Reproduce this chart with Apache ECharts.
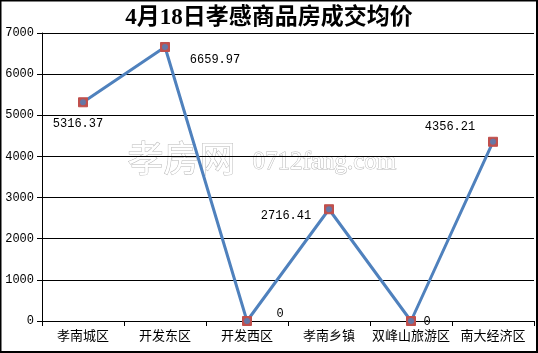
<!DOCTYPE html>
<html><head><meta charset="utf-8">
<script src="https://cdn.jsdelivr.net/npm/echarts@6/dist/echarts.min.js"></script>
<style>html,body{margin:0;padding:0;background:#fff}#c{width:538px;height:353px}</style>
</head><body><div id="c"></div>
<script>
var titleText = '4月18日孝感商品房成交均价';
var categories = ['孝南城区','开发东区','开发西区','孝南乡镇','双峰山旅游区','南大经济区'];
var values = [5316.37, 6659.97, 0, 2716.41, 0, 4356.21];
var labelOffsets = [[-5,22],[50,13],[33,-7],[-43,7],[16,1],[-43,-15]];
var yTicks = [0,1000,2000,3000,4000,5000,6000,7000];

var chart = echarts.init(document.getElementById('c'), null, {renderer:'canvas'});
var numFont = '"Liberation Mono","DejaVu Sans Mono",monospace';
var lineData = values.map(function(v,i){
  return {value:v, label:{show:true, position:'inside', offset:labelOffsets[i]}};
});
chart.setOption({
  animation:false,
  title:{text:titleText,left:'center',top:2,textStyle:{fontSize:23,fontWeight:'bold',color:'#000',fontFamily:'"Liberation Serif","Noto Sans CJK SC",serif'}},
  grid:{left:42,right:4,top:33,bottom:32,containLabel:false,outerBoundsMode:'none'},
  xAxis:{type:'category',data:categories,boundaryGap:true,
    axisLine:{lineStyle:{color:'#000',width:1}},
    axisTick:{show:true,length:5,lineStyle:{color:'#000'},alignWithLabel:false},
    axisLabel:{color:'#000',fontSize:13,margin:8,interval:0,fontFamily:'"Noto Sans CJK SC",sans-serif'}},
  yAxis:{type:'value',min:yTicks[0],max:yTicks[yTicks.length-1],interval:1000,
    axisLine:{show:true,lineStyle:{color:'#000'}},
    axisTick:{show:true,length:5,lineStyle:{color:'#000'}},
    splitLine:{lineStyle:{color:'#000',width:1}},
    axisLabel:{color:'#000',fontSize:12,margin:8,fontFamily:numFont,formatter:function(v){return String(v);}}},
  graphic:[
    {type:'rect',shape:{x:0.5,y:0.5,width:536.5,height:351.5},style:{fill:'none',stroke:'#000',lineWidth:2},z:100},
    {type:'text',left:127,top:140,z:0,style:{text:'孝房网',font:'36px "Noto Sans CJK SC"',fill:'#fff',stroke:'#b8b8b8',lineWidth:1}},
    {type:'text',left:252,top:149,z:0,style:{text:'0712fang.com',font:'25px "Liberation Serif"',fill:'#fff',stroke:'#b8b8b8',lineWidth:1}}
  ],
  series:[
    {type:'line',data:lineData,symbol:'rect',symbolSize:9,showAllSymbol:true,
      itemStyle:{color:'#c0504d',borderColor:'#c0504d'},
      lineStyle:{color:'#4f81bd',width:3},
      label:{color:'#000',fontSize:12,fontFamily:numFont,formatter:function(p){return String(p.value);}},
      z:3},
    {type:'scatter',data:values,symbol:'circle',symbolSize:6,itemStyle:{color:'#4f81bd'},z:4,silent:true}
  ]
});
</script></body></html>
